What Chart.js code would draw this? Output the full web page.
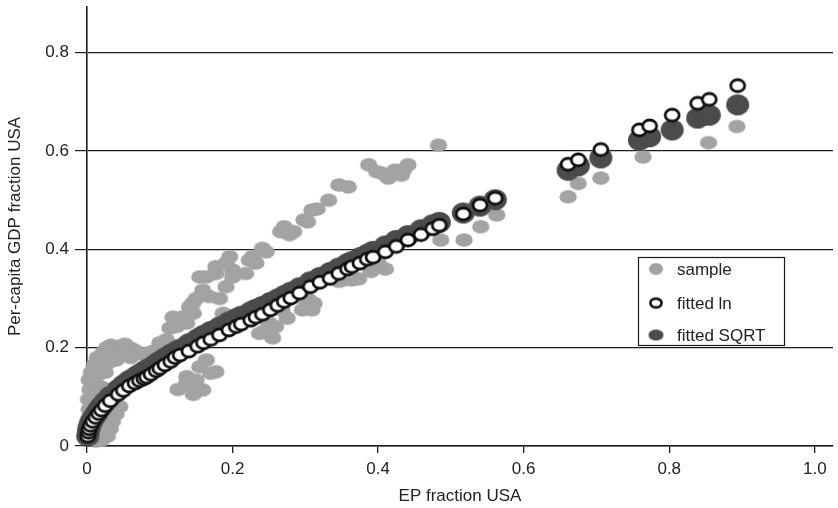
<!DOCTYPE html>
<html>
<head>
<meta charset="utf-8">
<script src="https://cdn.jsdelivr.net/npm/chart.js@4.4.0/dist/chart.umd.min.js"></script>
<style>
  html, body { margin: 0; padding: 0; background: #ffffff; }
  canvas { display: block; }
</style>
</head>
<body>
<canvas id="chart" width="838" height="508"></canvas>
<script>
// Observed sample: EP fraction of USA vs per-capita GDP fraction of USA
const sampleX = [
  0.002, 0.003, 0.002, 0.004, 0.003, 0.006, 0.008, 0.010, 0.014, 0.018,
  0.022, 0.027, 0.033, 0.040, 0.046, 0.052, 0.058, 0.064, 0.070, 0.078,
  0.085, 0.092, 0.030, 0.040, 0.025, 0.015, 0.020, 0.010, 0.050, 0.060,
  0.012, 0.020, 0.028, 0.032, 0.035, 0.040, 0.030, 0.045, 0.025,
  0.100, 0.109, 0.114, 0.123, 0.118, 0.132, 0.141, 0.137, 0.146,
  0.125, 0.137, 0.141, 0.150, 0.137, 0.146, 0.155, 0.159, 0.164, 0.177, 0.170,
  0.155, 0.159, 0.164, 0.168, 0.177, 0.177, 0.182, 0.187, 0.191, 0.191,
  0.196, 0.200, 0.200, 0.218, 0.223, 0.227, 0.232, 0.241, 0.246, 0.150, 0.145,
  0.237, 0.250, 0.255, 0.259, 0.268, 0.275, 0.255, 0.245,
  0.266, 0.271, 0.284, 0.278, 0.298, 0.303, 0.309, 0.316, 0.332, 0.346,
  0.359, 0.387, 0.398, 0.405, 0.414, 0.423, 0.432, 0.441, 0.435, 0.483,
  0.296, 0.300, 0.305, 0.309, 0.312, 0.346, 0.353, 0.364, 0.373, 0.390,
  0.400, 0.400, 0.410, 0.423, 0.486,
  0.518, 0.541, 0.563, 0.661, 0.675, 0.706, 0.764, 0.854, 0.893
];
const sampleY = [
  0.055, 0.075, 0.095, 0.115, 0.135, 0.150, 0.130, 0.165, 0.180, 0.170,
  0.190, 0.200, 0.205, 0.198, 0.203, 0.207, 0.200, 0.196, 0.190, 0.186,
  0.190, 0.193, 0.170, 0.175, 0.150, 0.145, 0.120, 0.100, 0.185, 0.180,
  0.010, 0.012, 0.020, 0.035, 0.050, 0.065, 0.070, 0.080, 0.040,
  0.210, 0.216, 0.240, 0.243, 0.262, 0.263, 0.283, 0.250, 0.270,
  0.115, 0.128, 0.128, 0.134, 0.141, 0.105, 0.161, 0.114, 0.175, 0.151, 0.148,
  0.344, 0.317, 0.344, 0.304, 0.351, 0.365, 0.300, 0.270, 0.372, 0.324,
  0.385, 0.344, 0.358, 0.351, 0.378, 0.385, 0.372, 0.402, 0.395, 0.300, 0.290,
  0.229, 0.250, 0.243, 0.243, 0.277, 0.260, 0.220, 0.235,
  0.436, 0.446, 0.436, 0.430, 0.460, 0.456, 0.480, 0.482, 0.500, 0.531,
  0.527, 0.572, 0.558, 0.555, 0.545, 0.561, 0.551, 0.572, 0.562, 0.612,
  0.277, 0.297, 0.297, 0.277, 0.290, 0.335, 0.338, 0.338, 0.340, 0.355,
  0.365, 0.372, 0.360, 0.425, 0.419,
  0.419, 0.446, 0.470, 0.507, 0.534, 0.545, 0.588, 0.617, 0.650
];

// Fitted values at the sample EP fractions
const fitX = [
  0.001, 0.002, 0.003, 0.005, 0.008, 0.012, 0.016, 0.020, 0.025, 0.032,
  0.043, 0.050, 0.058, 0.066, 0.072, 0.078, 0.082, 0.088, 0.095, 0.100,
  0.107, 0.115, 0.121, 0.128, 0.140, 0.152, 0.160, 0.170, 0.182, 0.195,
  0.205, 0.212, 0.225, 0.232, 0.241, 0.252, 0.262, 0.271, 0.280, 0.292,
  0.307, 0.320, 0.334, 0.346, 0.358, 0.364, 0.375, 0.385, 0.393, 0.410,
  0.425, 0.441, 0.459, 0.475, 0.484, 0.517, 0.540, 0.561, 0.661, 0.675,
  0.706, 0.759, 0.773, 0.804, 0.839, 0.855, 0.894
];
const fittedLn = [
  0.020, 0.028, 0.035, 0.042, 0.050, 0.058, 0.066, 0.073, 0.082, 0.092,
  0.105, 0.113, 0.122, 0.128, 0.133, 0.137, 0.140, 0.146, 0.153, 0.158,
  0.165, 0.172, 0.180, 0.185, 0.193, 0.203, 0.210, 0.217, 0.226, 0.236,
  0.243, 0.248, 0.256, 0.262, 0.268, 0.277, 0.286, 0.294, 0.301, 0.311,
  0.324, 0.333, 0.341, 0.351, 0.360, 0.365, 0.372, 0.380, 0.384, 0.395,
  0.406, 0.419, 0.430, 0.442, 0.449, 0.472, 0.490, 0.504, 0.573, 0.582,
  0.603, 0.643, 0.651, 0.673, 0.697, 0.705, 0.733
];
const fittedSqrt = [
  0.020, 0.030, 0.038, 0.046, 0.055, 0.064, 0.073, 0.081, 0.090, 0.101,
  0.115, 0.124, 0.133, 0.140, 0.146, 0.151, 0.155, 0.160, 0.167, 0.172,
  0.179, 0.186, 0.191, 0.197, 0.208, 0.218, 0.225, 0.233, 0.242, 0.252,
  0.259, 0.264, 0.273, 0.278, 0.284, 0.292, 0.299, 0.306, 0.313, 0.322,
  0.334, 0.343, 0.353, 0.362, 0.371, 0.375, 0.383, 0.390, 0.396, 0.407,
  0.418, 0.428, 0.440, 0.450, 0.455, 0.474, 0.488, 0.501, 0.561, 0.570,
  0.586, 0.622, 0.629, 0.643, 0.667, 0.673, 0.694
];

const xTicks = [0, 0.2, 0.4, 0.6, 0.8, 1.0];
const yTicks = [0, 0.2, 0.4, 0.6, 0.8];
const seriesNames = ['sample', 'fitted ln', 'fitted SQRT'];

const FONT = '"Liberation Sans", Arial, Helvetica, sans-serif';
const INK = '#1c1c1c';
const SAMPLE_GREY = '#a3a3a5';
const SQRT_GREY = '#4b4b4b';

// Elliptical marker sprites
function ellipseMarker(rx, ry, fill, stroke, lw) {
  const pad = stroke ? Math.ceil(lw / 2) + 1 : 1;
  const c = document.createElement('canvas');
  c.width = Math.ceil(2 * rx + 2 * pad);
  c.height = Math.ceil(2 * ry + 2 * pad);
  const g = c.getContext('2d');
  g.beginPath();
  g.ellipse(c.width / 2, c.height / 2, rx, ry, 0, 0, Math.PI * 2);
  g.fillStyle = fill;
  g.fill();
  if (stroke) {
    g.lineWidth = lw;
    g.strokeStyle = stroke;
    g.stroke();
  }
  return c;
}

const sampleMark = ellipseMarker(8.7, 6.8, SAMPLE_GREY);
const lnMark = ellipseMarker(7, 6, '#ffffff', '#111111', 2.8);
const sqrtMark = ellipseMarker(11.5, 10.5, SQRT_GREY);

const legendMarks = [
  ellipseMarker(7, 6, SAMPLE_GREY),
  ellipseMarker(5.6, 4.4, '#ffffff', '#111111', 2.6),
  ellipseMarker(7.5, 5.5, SQRT_GREY)
];

const toPoints = (xs, ys) => xs.map((x, i) => ({ x: x, y: ys[i] }));
const fmt = v => (v === 0 ? '0' : v.toFixed(1));

// Boxed legend inside the plot area
const boxedLegend = {
  id: 'boxedLegend',
  afterDraw(chart) {
    const ctx = chart.ctx;
    const bx = 638.5, by = 257.5, bw = 146, bh = 88;
    ctx.save();
    ctx.fillStyle = '#ffffff';
    ctx.fillRect(bx, by, bw, bh);
    ctx.strokeStyle = INK;
    ctx.lineWidth = 1.2;
    ctx.strokeRect(bx, by, bw, bh);
    const rows = [269, 303, 335];
    ctx.font = '17px ' + FONT;
    ctx.fillStyle = '#222222';
    ctx.textBaseline = 'middle';
    ctx.textAlign = 'left';
    seriesNames.forEach((name, i) => {
      const m = legendMarks[i];
      ctx.drawImage(m, 656 - m.width / 2, rows[i] - m.height / 2);
      ctx.fillText(name, 677, rows[i] + 1);
    });
    ctx.restore();
  }
};

new Chart(document.getElementById('chart'), {
  type: 'scatter',
  data: {
    datasets: [
      {
        label: seriesNames[0],
        data: toPoints(sampleX, sampleY),
        pointStyle: sampleMark,
        order: 3,
        clip: false
      },
      {
        label: seriesNames[2],
        data: toPoints(fitX, fittedSqrt),
        pointStyle: sqrtMark,
        order: 2,
        clip: false
      },
      {
        label: seriesNames[1],
        data: toPoints(fitX, fittedLn),
        pointStyle: lnMark,
        order: 1,
        clip: false
      }
    ]
  },
  options: {
    responsive: false,
    animation: false,
    devicePixelRatio: 1,
    events: [],
    layout: { padding: { top: 7, left: 0, right: 0, bottom: 0 } },
    plugins: {
      legend: { display: false },
      tooltip: { enabled: false }
    },
    scales: {
      x: {
        type: 'linear',
        min: 0,
        max: 1.025,
        afterBuildTicks: s => { s.ticks = xTicks.map(v => ({ value: v })); },
        afterFit: s => { s.height = 62; s.paddingLeft = 0; s.paddingRight = 0; },
        grid: { drawOnChartArea: false, drawTicks: true, tickLength: 7, color: INK, lineWidth: 1.3 },
        border: { display: true, color: INK, width: 1.6 },
        ticks: {
          color: '#222222',
          font: { family: FONT, size: 17 },
          padding: 6,
          maxRotation: 0,
          autoSkip: false,
          callback: v => fmt(v)
        },
        title: {
          display: true,
          text: 'EP fraction USA',
          color: '#222222',
          font: { family: FONT, size: 17 },
          padding: { top: 0, bottom: 1 }
        }
      },
      y: {
        type: 'linear',
        min: 0,
        max: 0.893,
        afterBuildTicks: s => { s.ticks = yTicks.map(v => ({ value: v })); },
        afterFit: s => { s.width = 87; s.paddingTop = 0; s.paddingBottom = 0; },
        grid: { drawOnChartArea: true, drawTicks: true, tickLength: 12, color: INK, lineWidth: 1.2 },
        border: { display: true, color: INK, width: 1.6 },
        ticks: {
          color: '#222222',
          font: { family: FONT, size: 17 },
          padding: 6,
          autoSkip: false,
          callback: v => fmt(v)
        },
        title: {
          display: true,
          text: 'Per-capita GDP fraction USA',
          color: '#222222',
          font: { family: FONT, size: 17 },
          padding: { top: 5, bottom: 0 }
        }
      }
    }
  },
  plugins: [boxedLegend]
});
</script>
</body>
</html>
